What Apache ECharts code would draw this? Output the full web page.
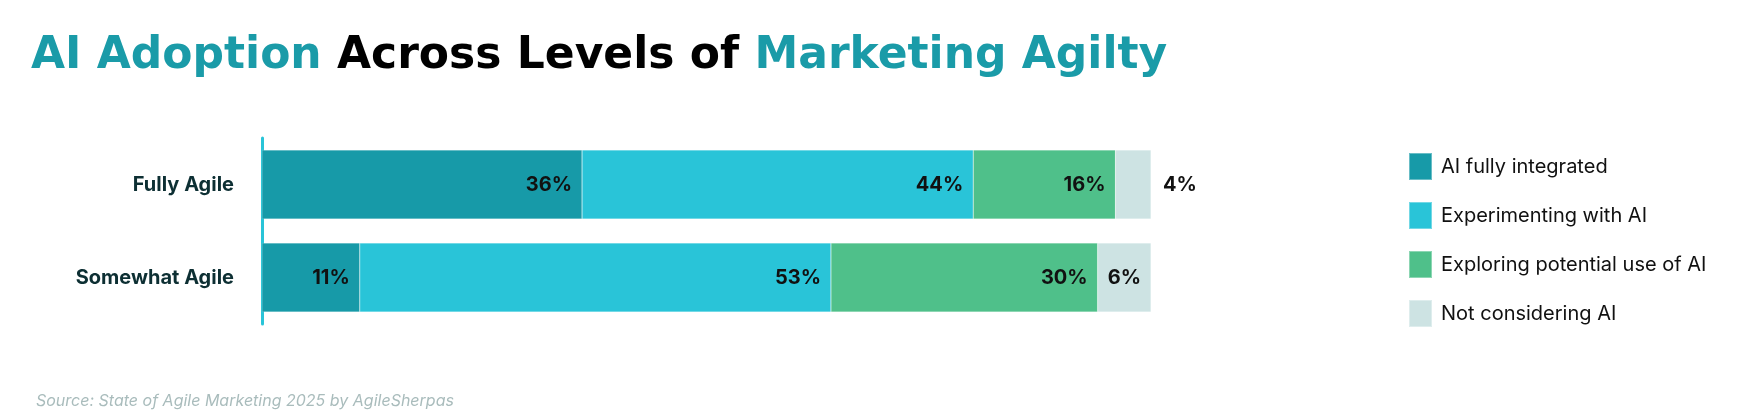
<!DOCTYPE html>
<html><head><meta charset="utf-8">
<script src="https://cdn.jsdelivr.net/npm/echarts@6/dist/echarts.min.js"></script>
<style>html,body{margin:0;padding:0;background:#fff}#c{width:1743px;height:418px}</style>
</head><body><div id="c"></div>
<script>
const categories = ['Fully Agile', 'Somewhat Agile'];
const seriesNames = ['AI fully integrated', 'Experimenting with AI', 'Exploring potential use of AI', 'Not considering AI'];
const fullyIntegrated = [36, 11];
const experimenting = [44, 53];
const exploring = [16, 30];
const notConsidering = [4, 6];
const colors = ['#179aa8', '#29c4d8', '#4fc08a', '#cde3e3'];

const chart = echarts.init(document.getElementById('c'));
const values = [fullyIntegrated, experimenting, exploring, notConsidering];
const font = 'Inter, "Noto Sans", sans-serif';
const tfont = '"DejaVu Sans", sans-serif';
chart.setOption({
  animation: false,
  title: [{
    text: '{t|AI Adoption }{b|Across Levels of }{t|Marketing Agilty}',
    left: 26, top: 30,
    textStyle: { rich: {
      t: { fontFamily: tfont, fontWeight: 'bold', fontSize: 44, color: '#1a9ba8' },
      b: { fontFamily: tfont, fontWeight: 'bold', fontSize: 44, color: '#000' }
    }}
  }, {
    text: 'Source: State of Agile Marketing 2025 by AgileSherpas',
    left: 31, top: 388,
    textStyle: { fontFamily: font, fontStyle: 'italic', fontWeight: 'normal', fontSize: 16, color: '#a9bcbc' }
  }],
  legend: {
    orient: 'vertical', left: 1403, top: 147,
    itemWidth: 23, itemHeight: 27, itemGap: 20,
    icon: 'rect',
    textStyle: { fontFamily: font, fontSize: 20, color: '#111', padding: [0, 0, 0, 4] },
    data: seriesNames
  },
  grid: { left: 262, right: 592, top: 138, bottom: 94 },
  xAxis: { type: 'value', min: 0, max: 100, show: false },
  yAxis: {
    type: 'category', data: categories, inverse: true,
    axisLine: { show: true, lineStyle: { color: '#29c4d8', width: 3 } },
    axisTick: { show: false },
    axisLabel: { fontFamily: font, fontWeight: 'bold', fontSize: 20, color: '#0d2f33', margin: 28 }
  },
  series: seriesNames.map((n, i) => ({
    name: n, type: 'bar', stack: 'all', barWidth: 69,
    itemStyle: { color: colors[i], borderColor: 'rgba(255,255,255,0.35)', borderWidth: 0.5 },
    label: { show: true, position: 'insideRight', distance: 10, formatter: '{c}%',
      fontFamily: font, fontWeight: 'bold', fontSize: 20, color: '#111' },
    data: values[i].map(v => (i === 3 && v < 5)
      ? { value: v, label: { position: 'right', distance: 12 } }
      : v)
  }))
});
</script></body></html>
